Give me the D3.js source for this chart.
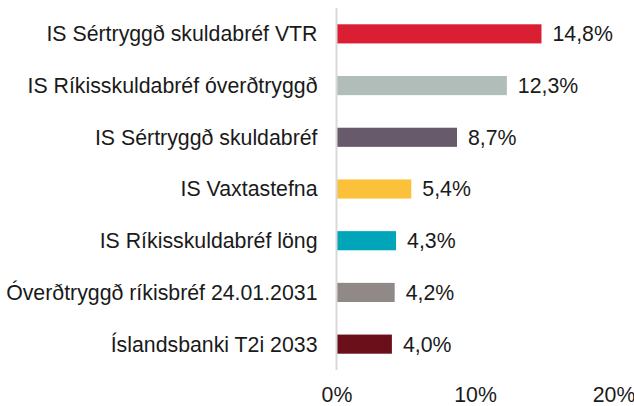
<!DOCTYPE html>
<html>
<head>
<meta charset="utf-8">
<script src="https://cdn.jsdelivr.net/npm/d3@7"></script>
<style>
  html, body { margin: 0; padding: 0; background: #fff; }
  text { font-family: "Liberation Sans", Arial, sans-serif; fill: #1a1a1a; }
</style>
</head>
<body>
<div id="chart"></div>
<script>
// Nöfn sjóða / bréfa
const categories = [
  "IS Sértryggð skuldabréf VTR",
  "IS Ríkisskuldabréf óverðtryggð",
  "IS Sértryggð skuldabréf",
  "IS Vaxtastefna",
  "IS Ríkisskuldabréf löng",
  "Óverðtryggð ríkisbréf 24.01.2031",
  "Íslandsbanki T2i 2033"
];
const values = [14.8, 12.3, 8.7, 5.4, 4.3, 4.2, 4.0];
const colors = ["#DA1F35", "#B0BDB8", "#675A6B", "#FBC13A", "#00A5B9", "#918888", "#6B0F1A"];
const xTicks = [0, 10, 20];

const W = 634, H = 406;
const FS = 21.3;
const margin = { top: 8, right: 20, bottom: 36, left: 336.5 };
const width = 613.5 - margin.left,
      height = 370 - margin.top;

const svg = d3.select("#chart").append("svg")
  .attr("width", W)
  .attr("height", H)
  .append("g")
  .attr("transform", `translate(${margin.left},${margin.top})`);

const x = d3.scaleLinear().domain([0, 20]).range([0, width]);
const y = d3.scaleBand().domain(categories).range([0, height]).paddingInner(0.63).paddingOuter(0.315);

const fmt = v => d3.format(".1f")(v).replace(".", ",") + "%";

// Bars
svg.selectAll("rect.bar")
  .data(values)
  .enter()
  .append("rect")
    .attr("class", "bar")
    .attr("x", x(0) + 0.5)
    .attr("y", (d, i) => y(categories[i]))
    .attr("width", d => x(d) - x(0) - 0.5)
    .attr("height", y.bandwidth())
    .attr("fill", (d, i) => colors[i]);

// Value labels
svg.selectAll("text.val")
  .data(values)
  .enter()
  .append("text")
    .attr("class", "val")
    .attr("x", d => x(d) + 11)
    .attr("y", (d, i) => y(categories[i]) + y.bandwidth() / 2)
    .attr("dy", "0.35em")
    .attr("font-size", FS)
    .text(fmt);

// Category labels
svg.selectAll("text.cat")
  .data(categories)
  .enter()
  .append("text")
    .attr("class", "cat")
    .attr("x", -19)
    .attr("y", d => y(d) + y.bandwidth() / 2)
    .attr("dy", "0.35em")
    .attr("text-anchor", "end")
    .attr("font-size", FS)
    .text(d => d);

// Y axis line
svg.append("line")
  .attr("x1", 0).attr("x2", 0)
  .attr("y1", 0).attr("y2", height)
  .attr("stroke", "#d9d9d9")
  .attr("stroke-width", 2);

// X tick labels (no axis line)
const xAxis = svg.append("g")
  .attr("transform", `translate(0,${height})`)
  .call(d3.axisBottom(x).tickValues(xTicks).tickSize(0).tickPadding(16.5).tickFormat(d => d + "%"));
xAxis.select(".domain").remove();
xAxis.selectAll("text")
  .attr("font-size", FS)
  .attr("font-family", "Liberation Sans, Arial, sans-serif")
  .attr("fill", "#1a1a1a");
</script>
</body>
</html>
